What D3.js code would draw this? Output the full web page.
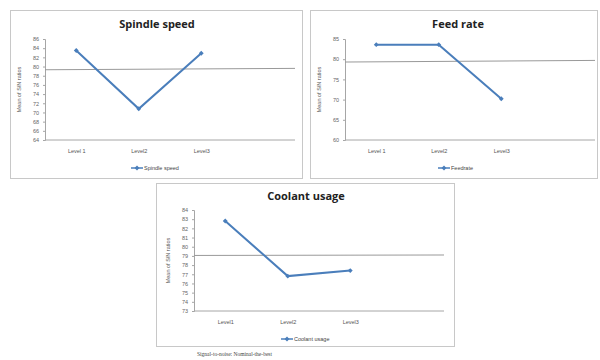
<!DOCTYPE html>
<html><head><meta charset="utf-8">
<script src="https://cdn.jsdelivr.net/npm/d3@7"></script>
<style>body{margin:0;background:#fff}svg{display:block}</style>
</head><body>
<svg id="c" width="600" height="360"></svg>
<script>
// ---- data ----
const spindleCats = ["Level 1", "Level2", "Level3", ""];
const spindleValues = [83.5, 70.8, 82.9];
const spindleMean = [79.3, 79.6];
const spindleTicks = [64, 66, 68, 70, 72, 74, 76, 78, 80, 82, 84, 86];

const feedCats = ["Level 1", "Level2", "Level3", ""];
const feedValues = [83.6, 83.6, 70.2];
const feedMean = [79.3, 79.7];
const feedTicks = [60, 65, 70, 75, 80, 85];

const coolantCats = ["Level1", "Level2", "Level3", ""];
const coolantValues = [82.8, 76.8, 77.4];
const coolantMean = [79.05, 79.1];
const coolantTicks = [73, 74, 75, 76, 77, 78, 79, 80, 81, 82, 83, 84];

const titles = ["Spindle speed", "Feed rate", "Coolant usage"];
const legendNames = ["Spindle speed", "Feedrate", "Coolant usage"];
const yLabel = "Mean of S/N ratios";
const footnote = "Signal-to-noise: Nominal-the-best";

const svg = d3.select("#c");
const blue = "#4a7ebb";
const axisCol = "#a6a6a6";

function panel(o) {
  const g = svg.append("g");
  g.append("rect").attr("x", o.box[0]).attr("y", o.box[1])
    .attr("width", o.box[2]).attr("height", o.box[3])
    .attr("fill", "#fff").attr("stroke", "#c8c8c8").attr("stroke-width", 1);
  g.append("text").attr("x", o.titleX).attr("y", o.titleY)
    .attr("text-anchor", "middle").attr("font-family", "Open Sans, Liberation Sans, sans-serif")
    .attr("font-weight", "bold").attr("font-size", 11).attr("fill", "#222").text(o.title);

  const x = d3.scalePoint().domain(o.cats).range([o.left, o.right]).padding(0.5);
  const y = d3.scaleLinear().domain([o.ticks[0], o.ticks[o.ticks.length - 1]]).range([o.bottom, o.top]);

  // y axis
  const ya = g.append("g").attr("transform", `translate(${o.left},0)`)
    .call(d3.axisLeft(y).tickValues(o.ticks).tickSize(2).tickPadding(4).tickFormat(d3.format("d")));
  ya.select(".domain").attr("stroke", axisCol);
  ya.selectAll(".tick line").attr("stroke", axisCol);
  ya.selectAll("text").attr("font-family", "Liberation Sans, sans-serif").attr("font-size", 5.5).attr("fill", "#666");

  // x axis
  const xa = g.append("g").attr("transform", `translate(0,${o.bottom})`)
    .call(d3.axisBottom(x).tickSize(0).tickPadding(9));
  xa.select(".domain").attr("stroke", axisCol).attr("d", `M${o.left},0H${o.right}`);
  xa.selectAll("text").attr("font-family", "Liberation Sans, sans-serif").attr("font-size", 5.5).attr("fill", "#555");

  // y label
  g.append("text").attr("transform", `translate(${o.left - 24},${(o.top + o.bottom) / 2}) rotate(-90)`)
    .attr("text-anchor", "middle").attr("font-family", "Liberation Sans, sans-serif")
    .attr("font-size", 5.5).attr("fill", "#555").text(yLabel);

  // mean line
  g.append("line").attr("x1", o.left).attr("x2", o.right)
    .attr("y1", y(o.mean[0])).attr("y2", y(o.mean[1]))
    .attr("stroke", "#999").attr("stroke-width", 1);

  // series
  const pts = o.values.map((v, i) => [x(o.cats[i]), y(v)]);
  g.append("path").attr("d", d3.line()(pts)).attr("fill", "none")
    .attr("stroke", blue).attr("stroke-width", 2);
  const sym = d3.symbol().type(d3.symbolSquare).size(12);
  g.selectAll(".m").data(pts).join("path")
    .attr("transform", d => `translate(${d[0]},${d[1]}) rotate(45)`).attr("d", sym).attr("fill", blue);

  // legend
  const lx = o.legendX, ly = o.legendY;
  g.append("line").attr("x1", lx).attr("x2", lx + 12).attr("y1", ly).attr("y2", ly)
    .attr("stroke", blue).attr("stroke-width", 1.5);
  g.append("path").attr("transform", `translate(${lx + 6},${ly}) rotate(45)`).attr("d", sym).attr("fill", blue);
  g.append("text").attr("x", lx + 13).attr("y", ly + 2)
    .attr("font-family", "Liberation Sans, sans-serif").attr("font-size", 5.5).attr("fill", "#444").text(o.legend);
}

panel({ box: [10.5, 10.5, 292, 168], title: titles[0], titleX: 157, titleY: 28,
  cats: spindleCats, values: spindleValues, mean: spindleMean, ticks: spindleTicks,
  left: 45, right: 295, top: 39, bottom: 140, legendX: 131, legendY: 168, legend: legendNames[0] });

panel({ box: [310.5, 10.5, 287, 168], title: titles[1], titleX: 458, titleY: 28,
  cats: feedCats, values: feedValues, mean: feedMean, ticks: feedTicks,
  left: 345, right: 595, top: 39, bottom: 140, legendX: 438, legendY: 168, legend: legendNames[1] });

panel({ box: [156.5, 183.5, 298, 163], title: titles[2], titleX: 306, titleY: 200,
  cats: coolantCats, values: coolantValues, mean: coolantMean, ticks: coolantTicks,
  left: 194, right: 444, top: 210, bottom: 311, legendX: 281, legendY: 339, legend: legendNames[2] });

svg.append("text").attr("x", 197).attr("y", 356)
  .attr("font-family", "Liberation Serif, serif").attr("font-size", 5.5).attr("fill", "#444").text(footnote);
</script>
</body></html>
